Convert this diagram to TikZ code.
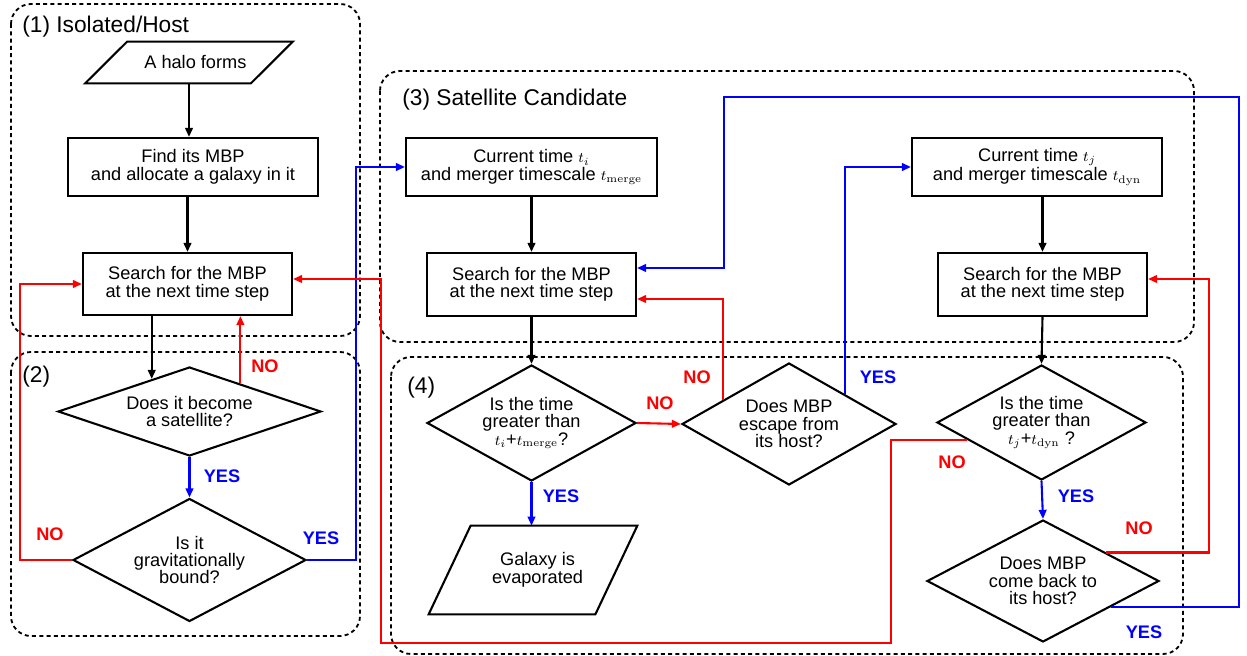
\documentclass[tikz,border=0pt]{standalone}
\usepackage[no-math]{fontspec}
\setmainfont{Liberation Sans}
\usetikzlibrary{shapes.geometric,arrows.meta,calc}
\newcommand{\pxu}{0.55pt}
\newcommand{\sm}[1]{{\fontsize{8}{8}\selectfont$#1$}}
\begin{document}
\begin{tikzpicture}[x=0.55pt,y=-0.55pt,
  font=\fontsize{10}{9.6}\selectfont,
  every node/.style={inner sep=0pt},
  nbox/.style={draw,line width=1.15pt,align=center},
  dia/.style={diamond,draw,line width=1.15pt,align=center},
  frame/.style={draw,line width=1pt,dash pattern=on 2.2pt off 1.8pt,rounded corners=11pt},
  conn/.style={line width=1.15pt,-{Triangle[length=5pt,width=4.2pt]}},
  lab/.style={font=\fontsize{10}{10}\selectfont\bfseries},
  ttl/.style={font=\fontsize{12.5}{13}\selectfont,anchor=west}]
\useasboundingbox (0,0) rectangle (1247,656);

% frames
\draw[frame] (11,4) rectangle (360,336);
\draw[frame] (11,352) rectangle (360,636);
\draw[frame] (380,71) rectangle (1194,342);
\draw[frame] (391,357) rectangle (1183,654);

\node[ttl] (t1) at (22,27) {(1) Isolated/Host};
\node[ttl] (t2) at (22,377) {(2)};
\node[ttl] (t3) at (402,100) {(3) Satellite Candidate};
\node[ttl] (t4) at (407,388) {(4)};

% nodes
\node[align=center,minimum width=165*\pxu,minimum height=41*\pxu] (halo) at (189,62.5) {\hspace*{7pt}A halo forms};
\draw[line width=1.15pt] ($(halo.north west)+(21,0)$) -- ($(halo.north east)+(21,0)$) -- ($(halo.south east)+(-21,0)$) -- ($(halo.south west)+(-21,0)$) -- cycle;
\node[nbox,minimum width=250*\pxu,minimum height=58*\pxu] (find) at (193,167) {Find its MBP\\and allocate a galaxy in it};
\node[nbox,minimum width=209*\pxu,minimum height=62*\pxu] (s1) at (187.5,284) {Search for the MBP\\at the next time step};
\node[dia,aspect=3,minimum width=263*\pxu,minimum height=89*\pxu] (d1) at (189.5,411.5) {Does it become\\a satellite?};
\node[dia,aspect=2,minimum width=233*\pxu,minimum height=123*\pxu] (d2) at (189.5,560) {Is it\\gravitationally\\bound?};

\node[nbox,minimum width=251*\pxu,minimum height=58*\pxu] (c1) at (531.5,167) {Current time \sm{t_i}\\and merger timescale \sm{t_{\mathrm{merge}}}};
\node[nbox,minimum width=209*\pxu,minimum height=63*\pxu] (s2) at (531.5,284.5) {Search for the MBP\\at the next time step};
\node[dia,aspect=1.8,minimum width=209*\pxu,minimum height=116*\pxu] (d3) at (531.5,423) {Is the time\\greater than\\\sm{t_i}+\sm{t_{\mathrm{merge}}}?};
\node[align=center,minimum width=166*\pxu,minimum height=88*\pxu] (evap) at (533,570) {\hspace*{5pt}Galaxy is\\\hspace*{5pt}evaporated};
\draw[line width=1.15pt] ($(evap.north west)+(21,0)$) -- ($(evap.north east)+(21,0)$) -- ($(evap.south east)+(-21,0)$) -- ($(evap.south west)+(-21,0)$) -- cycle;
\node[dia,aspect=1.8,minimum width=214*\pxu,minimum height=122*\pxu] (d4) at (789,424) {Does MBP\\escape from\\its host?};

\node[nbox,minimum width=250*\pxu,minimum height=58*\pxu] (c2) at (1037,167) {Current time \sm{t_j}\\and merger timescale \sm{t_{\mathrm{dyn}}}};
\node[nbox,minimum width=209*\pxu,minimum height=63*\pxu] (s3) at (1042.5,284.5) {Search for the MBP\\at the next time step};
\node[dia,aspect=1.8,minimum width=209*\pxu,minimum height=115*\pxu] (d5) at (1041.5,422.5) {Is the time\\greater than\\\sm{t_j}+\sm{t_{\mathrm{dyn}}} ?};
\node[dia,aspect=2,minimum width=232*\pxu,minimum height=122*\pxu] (d6) at (1043,581) {Does MBP\\come back to\\its host?};

% edge points
\coordinate (d1in) at ($(d1.north)!0.285!(d1.west)$);
\coordinate (d1no) at ($(d1.north)!0.384!(d1.east)$);
\coordinate (d4no) at ($(d4.north)!0.607!(d4.west)$);
\coordinate (d4yes) at ($(d4.north)!0.514!(d4.east)$);
\coordinate (d5no) at ($(d5.west)!0.297!(d5.south)$);
\coordinate (d6no) at ($(d6.north)!0.54!(d6.east)$);
\coordinate (d6yes) at ($(d6.east)!0.422!(d6.south)$);

% connectors
\draw[conn] (halo.south) -- (halo.south |- find.north);
\draw[conn] (s1.north |- find.south) -- (s1.north);
\draw[conn] (d1in |- s1.south) -- (d1in);
\draw[conn,red] (d1no) -- (d1no |- s1.south);
\draw[conn,blue] (d1.south) -- (d2.north);
\draw[conn,red] (d2.west) -- ++(-52,0) |- (s1.west);
\draw[conn,blue] (d2.east) -- ++(49,0) |- (c1.west);
\draw[conn] (c1.south) -- (s2.north);
\draw[conn] (s2.south) -- (d3.north);
\draw[conn,red] (d3.east) -- (d4.west);
\draw[conn,blue] (d3.south) -- (d3.south |- evap.north);
\draw[conn,red] (d4no) |- ($(s2.east)+(0,14.5)$);
\draw[conn,blue] (d4yes) |- (c2.west);
\draw[conn] (s3.north |- c2.south) -- (s3.north);
\draw[conn] (s3.south) -- (d5.north);
\draw[conn,blue] (d5.south) -- (d6.north);
\draw[conn,red] (d5no) -| (891,643) -| (381,279) -- ($(s1.east)+(0,-5)$);
\draw[conn,red] (d6no) -| (1209,279) -- ($(s3.east)+(0,-5.5)$);
\draw[conn,blue] (d6yes) -| (1239,97) -| (724,268) -- ($(s2.east)+(0,-16.5)$);

% labels
\node[lab,text=red] (no1) at (265,366) {NO};
\node[lab,text=blue] (yes1) at (222,476) {YES};
\node[lab,text=red] (no2) at (50,534) {NO};
\node[lab,text=blue] (yes2) at (321,538) {YES};
\node[lab,text=red] (no3) at (660,403) {NO};
\node[lab,text=blue] (yes3) at (561,496) {YES};
\node[lab,text=red] (no4) at (697,377) {NO};
\node[lab,text=blue] (yes4) at (878,377) {YES};
\node[lab,text=red] (no5) at (952,462) {NO};
\node[lab,text=blue] (yes5) at (1076,496) {YES};
\node[lab,text=red] (no6) at (1139,528) {NO};
\node[lab,text=blue] (yes6) at (1144,632) {YES};
\end{tikzpicture}
\end{document}
